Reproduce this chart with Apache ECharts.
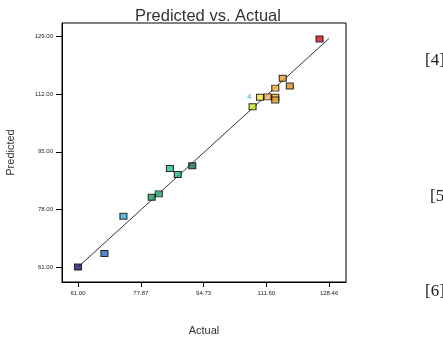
<!DOCTYPE html>
<html>
<head>
<meta charset="utf-8">
<script src="https://cdn.jsdelivr.net/npm/echarts@6/dist/echarts.min.js"></script>
<style>
  html, body { margin: 0; padding: 0; width: 100%; height: 100%; overflow: hidden; background: #fff; }
  #chart { width: 443px; height: 338px; }
</style>
</head>
<body>
<div id="chart"></div>
<script>
// values
var actual    = [61.0, 68.1, 73.2, 80.8, 82.7, 85.7, 87.8, 91.7, 107.9, 109.9, 111.9, 114.0, 114.0, 114.0, 116.0, 117.9, 125.9];
var predicted = [61.0, 65.0, 76.0, 81.6, 82.6, 90.1, 88.3, 90.9, 108.3, 111.1, 111.2, 113.8, 111.1, 110.3, 116.7, 114.4, 128.3];
var colors    = ['#1a1a7a', '#2a6cc8', '#3aa8d8', '#1f9a66', '#24a86c', '#2cc47e', '#22b270', '#137048',
                 '#c8e628', '#f2e43c', '#f0b060', '#f0b040', '#f0b040', '#eea838', '#e89a3a', '#e08a30', '#d81020'];
var xTicks = [61.00, 77.87, 94.73, 111.60, 128.46];
var yTicks = [61.00, 78.00, 95.00, 112.00, 129.00];
var fitLine = [[61.00, 61.00], [128.46, 128.46]];
var sideRefs = ['[4]', '[5]', '[6]'];

var chart = echarts.init(document.getElementById('chart'));

var pts = actual.map(function (a, i) {
  return { value: [a, predicted[i]], itemStyle: { color: colors[i] } };
});

var tickLabel = { fontSize: 6, color: '#222', fontFamily: 'Arial' };

chart.setOption({
  animation: false,
  title: {
    text: 'Predicted vs. Actual', left: 203, top: 3, textAlign: 'center',
    textStyle: { fontSize: 16.5, fontWeight: 'normal', color: '#333', fontFamily: 'Arial' }
  },
  grid: {
    left: 62, right: 97, top: 23, bottom: 56, show: true, borderColor: '#000', borderWidth: 1,
    outerBoundsMode: 'none', containLabel: false
  },
  xAxis: {
    type: 'value', min: 56.7, max: 133.0,
    name: 'Actual', nameLocation: 'middle', nameGap: 43,
    nameTextStyle: { fontSize: 11, color: '#333', fontFamily: 'Arial' },
    axisLine: { onZero: false, lineStyle: { color: '#000' } },
    axisTick: { customValues: xTicks, length: 5, lineStyle: { color: '#000' } },
    axisLabel: Object.assign({ customValues: xTicks, margin: 8, formatter: function (v) { return v.toFixed(2); } }, tickLabel),
    splitLine: { show: false }
  },
  yAxis: {
    type: 'value', min: 56.6, max: 133.0,
    name: 'Predicted', nameLocation: 'middle', nameGap: 46,
    nameTextStyle: { fontSize: 11, color: '#333', fontFamily: 'Arial' },
    axisLine: { onZero: false, lineStyle: { color: '#000' } },
    axisTick: { customValues: yTicks, length: 6, lineStyle: { color: '#000' } },
    axisLabel: Object.assign({ customValues: yTicks, margin: 9, formatter: function (v) { return v.toFixed(2); } }, tickLabel),
    splitLine: { show: false }
  },
  graphic: sideRefs.map(function (t, i) {
    return {
      type: 'text', left: 425 + (i === 1 ? 5 : 0), top: [52, 188, 283][i],
      style: { text: t, fontSize: 17, fontFamily: 'Liberation Serif', fill: '#222' }
    };
  }),
  series: [
    {
      type: 'line', data: fitLine, symbol: 'none', silent: true,
      lineStyle: { color: '#333', width: 1 }
    },
    {
      type: 'scatter', data: pts, symbol: 'rect', symbolSize: [7, 6],
      itemStyle: { borderColor: '#000', borderWidth: 1 },
      z: 3
    },
    {
      type: 'scatter', data: [[107.0, 111.2]], symbolSize: 0,
      label: { show: true, formatter: '4', position: 'inside', fontSize: 7, color: '#3aa8d8', fontWeight: 'bold' }
    }
  ]
});
</script>
</body>
</html>
